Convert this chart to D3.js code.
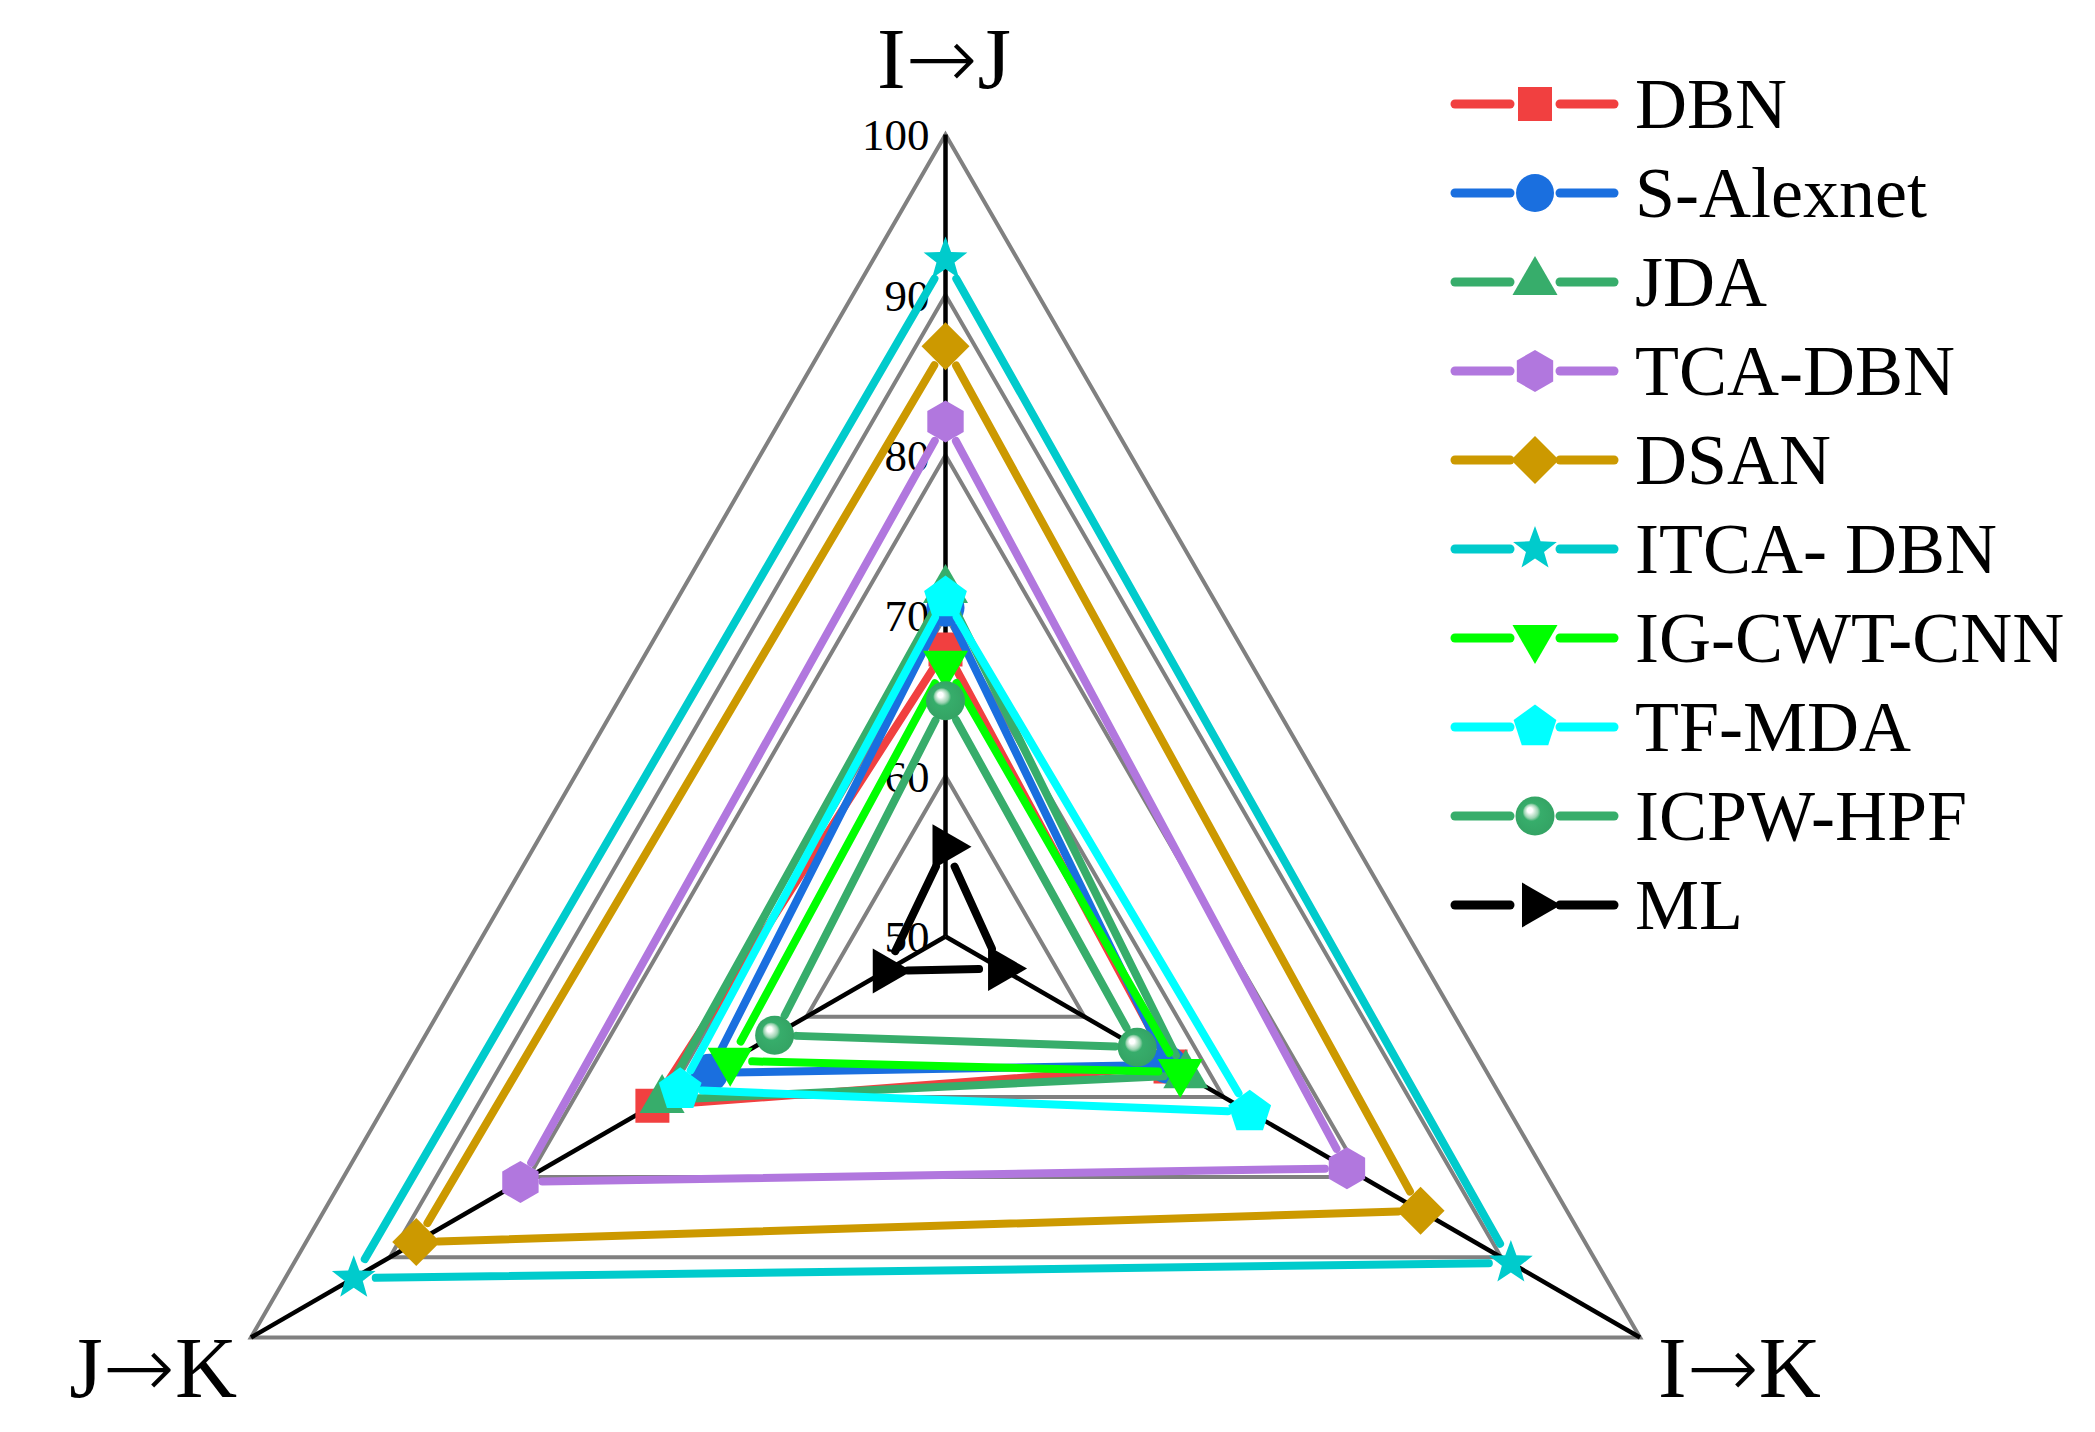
<!DOCTYPE html>
<html>
<head>
<meta charset="utf-8">
<script src="https://cdn.jsdelivr.net/npm/d3@7"></script>
<style>
  body { margin: 0; background: #fff; }
  svg { display: block; font-family: "Liberation Serif", "Times New Roman", serif; }
</style>
</head>
<body>
<svg id="chart" width="2095" height="1432"></svg>
<script>
// axes, clockwise from the top
const axes = ["I→J", "I→K", "J→K"];
const ticks = [50, 60, 70, 80, 90, 100];
const methods = ["DBN", "S-Alexnet", "JDA", "TCA-DBN", "DSAN", "ITCA- DBN", "IG-CWT-CNN", "TF-MDA", "ICPW-HPF", "ML"];

// accuracy (%) on I→J, I→K, J→K
const dbn      = [67.9, 66.2, 71.1];
const sAlexnet = [70.5, 66.0, 67.0];
const jda      = [71.6, 67.3, 70.4];
const tcaDbn   = [82.1, 78.9, 80.6];
const dsan     = [86.8, 84.2, 88.1];
const itcaDbn  = [92.2, 90.7, 92.6];
const igCwtCnn = [67.0, 66.9, 65.5];
const tfMda    = [71.1, 71.9, 69.1];
const icpwHpf  = [64.7, 63.8, 62.3];
const ml       = [55.6, 54.0, 54.3];

const values = [dbn, sAlexnet, jda, tcaDbn, dsan, itcaDbn, igCwtCnn, tfMda, icpwHpf, ml];
const colors = ["#F14040", "#1A6FDF", "#37AD6B", "#B177DE", "#CC9900", "#00CBCC", "#00FF00", "#00FFFF", "#37AD6B", "#000000"];
const shapes = ["square", "circle", "triangle", "hexagon", "diamond", "star", "down", "pentagon", "sphere", "right"];

const svg = d3.select("#chart");
const cx = 945.5, cy = 936.5, R = 802;

const rScale = d3.scaleLinear().domain([50, 100]).range([0, R]);
const angle = i => -Math.PI / 2 + i * 2 * Math.PI / 3;
function pt(i, v) {
  const a = angle(i), r = rScale(v);
  return [cx + r * Math.cos(a), cy + r * Math.sin(a)];
}

// sphere gradient
const defs = svg.append("defs");
const grad = defs.append("radialGradient").attr("id", "sphere")
  .attr("cx", "50%").attr("cy", "50%").attr("r", "55%")
  .attr("fx", "35%").attr("fy", "33%");
[["0%", "#ffffff"], ["12%", "#ffffff"], ["20%", "#d5ecdd"], ["32%", "#9ad2b0"], ["42%", "#37AD6B"], ["100%", "#33a263"]]
  .forEach(s => grad.append("stop").attr("offset", s[0]).attr("stop-color", s[1]));

// grid triangles
const grid = svg.append("g");
ticks.slice(1).forEach(t => {
  grid.append("polygon")
    .attr("points", axes.map((a, i) => pt(i, t).join(",")).join(" "))
    .attr("fill", "none")
    .attr("stroke", "#808080")
    .attr("stroke-width", 4);
});

// axis spokes
axes.forEach((a, i) => {
  const p = pt(i, 100);
  svg.append("line")
    .attr("x1", cx).attr("y1", cy).attr("x2", p[0]).attr("y2", p[1])
    .attr("stroke", "#000").attr("stroke-width", 4.5);
});

// tick labels along the top axis
svg.append("g").selectAll("text")
  .data(ticks).enter().append("text")
    .attr("x", cx - 16)
    .attr("y", d => pt(0, d)[1])
    .attr("dy", "0.35em")
    .attr("text-anchor", "end")
    .style("font-size", "45px")
    .text(d => d);

// axis names (arrow in a lighter sans font, like the Symbol arrow)
const axisPos = [
  { x: 944, y: 88, anchor: "middle" },
  { x: 1658, y: 1397, anchor: "start" },
  { x: 237, y: 1397, anchor: "end" }
];
axes.forEach((name, i) => {
  const parts = name.split("→");
  const t = svg.append("text")
    .attr("x", axisPos[i].x)
    .attr("y", axisPos[i].y)
    .attr("text-anchor", axisPos[i].anchor)
    .style("font-size", "86px");
  t.append("tspan").text(parts[0]);
  t.append("tspan")
    .style("font-family", "'DejaVu Sans'").style("font-weight", 200)
    .text("→");
  t.append("tspan").text(parts[1]);
});

// marker shapes
function poly(n, r, rot) {
  const pts = d3.range(n).map(k => {
    const a = rot + k * 2 * Math.PI / n;
    return [r * Math.cos(a), r * Math.sin(a)];
  });
  return "M" + pts.map(p => p.join(",")).join("L") + "Z";
}
function star(r, r2) {
  const pts = d3.range(10).map(k => {
    const a = -Math.PI / 2 + k * Math.PI / 5, rr = k % 2 ? r2 : r;
    return [rr * Math.cos(a), rr * Math.sin(a)];
  });
  return "M" + pts.map(p => p.join(",")).join("L") + "Z";
}
function marker(g, shape, color) {
  if (shape === "circle") return g.append("circle").attr("r", 19).attr("fill", color);
  if (shape === "sphere") return g.append("circle").attr("r", 19.5).attr("fill", "url(#sphere)");
  let d;
  if (shape === "square") d = "M-17,-17H17V17H-17Z";
  if (shape === "triangle") d = poly(3, 26, -Math.PI / 2);
  if (shape === "down") d = poly(3, 26, Math.PI / 2);
  if (shape === "right") d = poly(3, 26, 0);
  if (shape === "diamond") d = poly(4, 24, -Math.PI / 2);
  if (shape === "hexagon") d = poly(6, 21, -Math.PI / 2);
  if (shape === "pentagon") d = poly(5, 22.5, -Math.PI / 2);
  if (shape === "star") d = star(23, 9.5);
  return g.append("path").attr("d", d).attr("fill", color);
}

// series: gapped lines + markers
const gap = 22;
values.forEach((vals, s) => {
  const g = svg.append("g");
  const pts = vals.map((v, i) => pt(i, v));
  pts.forEach((p, i) => {
    const q = pts[(i + 1) % pts.length];
    const dx = q[0] - p[0], dy = q[1] - p[1], L = Math.hypot(dx, dy);
    if (L < 2 * gap + 4) return;
    const ux = dx / L, uy = dy / L;
    g.append("line")
      .attr("x1", p[0] + ux * gap).attr("y1", p[1] + uy * gap)
      .attr("x2", q[0] - ux * gap).attr("y2", q[1] - uy * gap)
      .attr("stroke", colors[s])
      .attr("stroke-width", 8)
      .attr("stroke-linecap", "round");
  });
  pts.forEach(p => {
    const m = g.append("g").attr("transform", `translate(${p[0]},${p[1]})`);
    marker(m, shapes[s], colors[s]);
  });
});

// legend
const legend = svg.append("g");
const rowY = i => 104 + i * 89;
methods.forEach((name, i) => {
  const y = rowY(i);
  legend.append("line").attr("x1", 1455).attr("x2", 1510).attr("y1", y).attr("y2", y)
    .attr("stroke", colors[i]).attr("stroke-width", 9).attr("stroke-linecap", "round");
  legend.append("line").attr("x1", 1560).attr("x2", 1614).attr("y1", y).attr("y2", y)
    .attr("stroke", colors[i]).attr("stroke-width", 9).attr("stroke-linecap", "round");
  const m = legend.append("g").attr("transform", `translate(1535,${y})`);
  marker(m, shapes[i], colors[i]);
  legend.append("text")
    .attr("x", 1635)
    .attr("y", y + 24)
    .style("font-size", "72px")
    .text(name);
});
</script>
</body>
</html>
